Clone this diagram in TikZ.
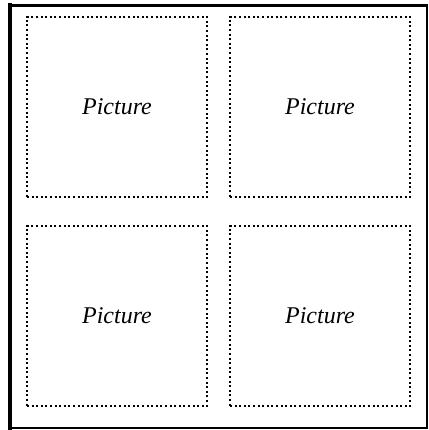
\documentclass[tikz,border=0pt]{standalone}
\usepackage{fontspec}
\setmainfont{Liberation Serif}
\begin{document}
\begin{tikzpicture}[x=1pt,y=-1pt,
  picbox/.style={draw, line width=2pt, dash pattern=on 2pt off 2.6pt, minimum width=180pt, minimum height=180pt, inner sep=0pt, font=\fontsize{24}{28}\selectfont\itshape},
  frameline/.style={draw, line cap=rect}]
\useasboundingbox (0,0) rectangle (428,430);
\draw[frameline, line width=4pt] (10,5.5) -- (10,428);
\draw[frameline, line width=3pt] (10,5.5) -- (426.5,5.5);
\draw[frameline, line width=2pt] (426.5,5.5) -- (426.5,428);
\draw[frameline, line width=2.5pt] (10,428) -- (426.5,428);
\node[picbox] (p1) at (117,107) {Picture};
\node[picbox] (p2) at (320,107) {Picture};
\node[picbox] (p3) at (117,316) {Picture};
\node[picbox] (p4) at (320,316) {Picture};
\end{tikzpicture}
\end{document}
